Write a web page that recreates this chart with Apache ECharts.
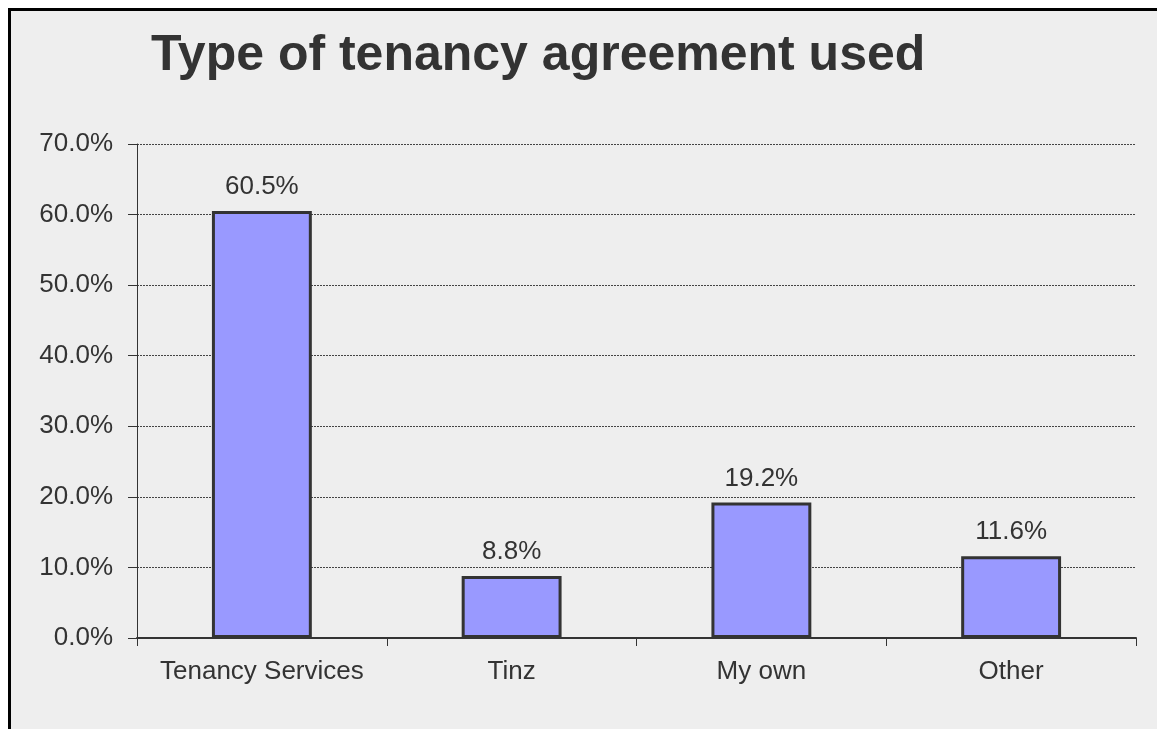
<!DOCTYPE html>
<html>
<head>
<meta charset="utf-8">
<script src="https://cdn.jsdelivr.net/npm/echarts@6/dist/echarts.min.js"></script>
<style>
html,body{margin:0;padding:0;background:#fff;}
#chart{width:1157px;height:729px;}
</style>
</head>
<body>
<div id="chart"></div>
<script>
var categories = ['Tenancy Services', 'Tinz', 'My own', 'Other'];
var values = [60.5, 8.8, 19.2, 11.6];
var yTicks = { min: 0, max: 70, interval: 10 };
var titleText = 'Type of tenancy agreement used';

var chart = echarts.init(document.getElementById('chart'), null, { renderer: 'canvas' });
var font = '"Liberation Sans", Arial, sans-serif';
chart.setOption({
  backgroundColor: '#ffffff',
  animation: false,
  graphic: [
    { type: 'rect', silent: true, z: -10, shape: { x: 8, y: 8, width: 1160, height: 730 }, style: { fill: '#eeeeee' } },
    { type: 'line', silent: true, z: 100, shape: { x1: 9.5, y1: 8, x2: 9.5, y2: 729 }, style: { stroke: '#000', lineWidth: 3 } },
    { type: 'line', silent: true, z: 100, shape: { x1: 8, y1: 9.5, x2: 1157, y2: 9.5 }, style: { stroke: '#000', lineWidth: 3 } }
  ],
  title: {
    text: titleText,
    left: 146,
    top: 26,
    textStyle: { fontFamily: font, fontSize: 50, fontWeight: 'bold', color: '#333333' }
  },
  grid: { left: 137, right: 21, top: 144, bottom: 91, containLabel: false },
  xAxis: {
    type: 'category',
    data: categories,
    axisLine: { lineStyle: { color: '#333', width: 2 } },
    axisTick: { show: true, interval: 0, length: 8, alignWithLabel: false, lineStyle: { color: '#333', width: 1 } },
    axisLabel: { interval: 0, hideOverlap: false, fontFamily: font, fontSize: 26, color: '#333', margin: 21 },
    splitLine: { show: false }
  },
  yAxis: {
    type: 'value',
    min: yTicks.min,
    max: yTicks.max,
    interval: yTicks.interval,
    axisLine: { show: true, lineStyle: { color: '#333', width: 1 } },
    axisTick: { show: true, length: 9, lineStyle: { color: '#333', width: 1 } },
    axisLabel: { fontFamily: font, fontSize: 26, color: '#333', margin: 24, formatter: function (v) { return v.toFixed(1) + '%'; } },
    splitLine: { show: true, lineStyle: { color: '#444', width: 1, type: [2, 1] } }
  },
  series: [{
    type: 'bar',
    data: values,
    barWidth: '40%',
    itemStyle: { color: '#9999ff', borderColor: '#333333', borderWidth: 3 },
    label: {
      show: true,
      position: 'top',
      distance: 11,
      fontFamily: font,
      fontSize: 26,
      color: '#333',
      formatter: function (p) { return p.value.toFixed(1) + '%'; }
    }
  }]
});
</script>
</body>
</html>
